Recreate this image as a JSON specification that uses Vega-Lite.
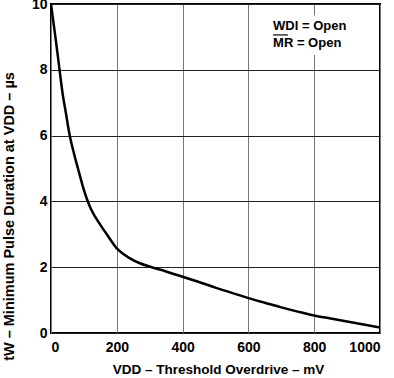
{
  "$schema": "https://vega.github.io/schema/vega-lite/v6.json",
  "width": 329,
  "height": 329,
  "autosize": {"type": "none"},
  "padding": {"left": 51, "top": 4, "right": 14, "bottom": 45},
  "background": "white",
  "config": {
    "font": "Liberation Sans",
    "view": {"stroke": "black", "strokeWidth": 2},
    "axis": {
      "labelFont": "Liberation Sans",
      "labelFontWeight": "bold",
      "labelFontSize": 14,
      "labelColor": "black",
      "titleFont": "Liberation Sans",
      "titleFontWeight": "bold",
      "titleFontSize": 13.5,
      "titleColor": "black",
      "domain": false,
      "ticks": false,
      "gridColor": "#777",
      "gridWidth": 1,
      "gridOpacity": 1
    }
  },
  "datasets": {
    "curve": [
      {"v": 0, "t": 10},
      {"v": 10, "t": 9.25},
      {"v": 20, "t": 8.48},
      {"v": 26, "t": 8.0},
      {"v": 35, "t": 7.3},
      {"v": 45, "t": 6.7},
      {"v": 57, "t": 6.0},
      {"v": 70, "t": 5.45},
      {"v": 82, "t": 5.0},
      {"v": 95, "t": 4.52},
      {"v": 110, "t": 4.05},
      {"v": 120, "t": 3.8},
      {"v": 135, "t": 3.52},
      {"v": 149, "t": 3.3},
      {"v": 175, "t": 2.92},
      {"v": 200, "t": 2.57},
      {"v": 220, "t": 2.4},
      {"v": 240, "t": 2.27},
      {"v": 270, "t": 2.12},
      {"v": 306, "t": 2.0},
      {"v": 350, "t": 1.87},
      {"v": 400, "t": 1.71},
      {"v": 450, "t": 1.55},
      {"v": 500, "t": 1.38},
      {"v": 550, "t": 1.22},
      {"v": 600, "t": 1.06},
      {"v": 650, "t": 0.92},
      {"v": 700, "t": 0.78},
      {"v": 750, "t": 0.65},
      {"v": 800, "t": 0.53},
      {"v": 850, "t": 0.44},
      {"v": 900, "t": 0.35},
      {"v": 950, "t": 0.26},
      {"v": 1000, "t": 0.17}
    ],
    "notes": [
      {"v": 675, "t": 9.21, "label": "WDI = Open"},
      {"v": 675, "t": 8.69, "label": "MR = Open"}
    ],
    "box": [{"v": 660, "v2": 950, "t": 8.45, "t2": 9.65}],
    "bar": [{"v": 675, "v2": 720, "t": 9.06}]
  },
  "layer": [
    {
      "data": {"name": "curve"},
      "mark": {"type": "line", "color": "black", "strokeWidth": 2.5, "interpolate": "monotone", "clip": true},
      "encoding": {
        "x": {
          "field": "v", "type": "quantitative",
          "scale": {"domain": [0, 1000], "nice": false},
          "axis": {"values": [0, 200, 400, 600, 800, 1000], "format": "d", "labelPadding": 7, "title": "VDD – Threshold Overdrive – mV", "titleX": 167, "titleY": 40, "titleBaseline": "alphabetic"}
        },
        "y": {
          "field": "t", "type": "quantitative",
          "scale": {"domain": [0, 10], "nice": false},
          "axis": {"values": [0, 2, 4, 6, 8, 10], "format": "d", "labelPadding": 4, "gridColor": "#222", "title": "tW – Minimum Pulse Duration at VDD – µs", "titleFontSize": 14.5, "titleX": -35, "titleY": 212}
        }
      }
    },
    {
      "data": {"name": "box"},
      "mark": {"type": "rect", "color": "white"},
      "encoding": {
        "x": {"field": "v", "type": "quantitative"},
        "x2": {"field": "v2"},
        "y": {"field": "t", "type": "quantitative"},
        "y2": {"field": "t2"}
      }
    },
    {
      "data": {"name": "notes"},
      "mark": {"type": "text", "align": "left", "baseline": "alphabetic", "font": "Liberation Sans", "fontWeight": "bold", "fontSize": 13, "color": "black"},
      "encoding": {
        "x": {"field": "v", "type": "quantitative"},
        "y": {"field": "t", "type": "quantitative"},
        "text": {"field": "label"}
      }
    },
    {
      "data": {"name": "bar"},
      "mark": {"type": "rule", "color": "black", "strokeWidth": 1.2},
      "encoding": {
        "x": {"field": "v", "type": "quantitative"},
        "x2": {"field": "v2"},
        "y": {"field": "t", "type": "quantitative"}
      }
    }
  ]
}
